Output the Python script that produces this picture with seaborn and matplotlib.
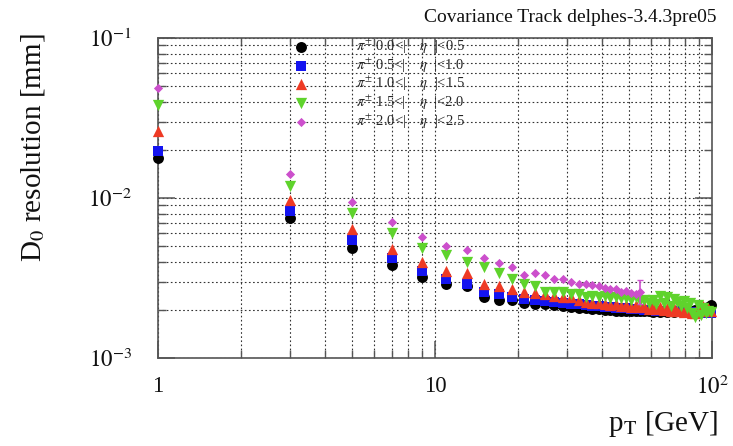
import matplotlib
matplotlib.use("Agg")
import matplotlib.pyplot as plt
from matplotlib.ticker import LogLocator, NullFormatter
import numpy as np
import pandas as pd
import seaborn as sns

# transverse momentum bins [GeV]
pt = [1, 3, 5, 7, 9, 11, 13, 15, 17, 19,
      21, 23, 25, 27, 29, 31, 33, 35, 37, 39,
      41, 43, 45, 47, 49, 51, 53, 55, 57, 59,
      61, 63, 65, 67, 69, 71, 73, 75, 77, 79,
      81, 83, 85, 87, 89, 91, 93, 95, 97, 99]

# D0 resolution [mm] per |eta| range
d0_eta_00_05 = [0.0178, 0.0075, 0.0049, 0.0038, 0.0032, 0.0029, 0.0028, 0.0024, 0.0023, 0.0023,
                0.00222, 0.00219, 0.00216, 0.00213, 0.00210, 0.00208, 0.00206, 0.00204, 0.00202, 0.00201,
                0.00200, 0.00199, 0.00198, 0.00198, 0.00197, 0.00197, 0.00196, 0.00197, 0.00196, 0.00196,
                0.00195, 0.00196, 0.00195, 0.00196, 0.00195, 0.00196, 0.00195, 0.00196, 0.00196, 0.00197,
                0.00197, 0.00198, 0.00198, 0.00199, 0.00200, 0.00201, 0.00203, 0.00205, 0.00209, 0.00214]
d0_eta_05_10 = [0.0197, 0.0083, 0.0055, 0.0042, 0.0035, 0.0031, 0.0029, 0.0026, 0.0025, 0.0024,
                0.00235, 0.00230, 0.00226, 0.00223, 0.00220, 0.00218, 0.00216, 0.00214, 0.00212, 0.00210,
                0.00209, 0.00208, 0.00206, 0.00205, 0.00204, 0.00203, 0.00202, 0.00201, 0.00200, 0.00199,
                0.00199, 0.00198, 0.00198, 0.00197, 0.00197, 0.00196, 0.00196, 0.00195, 0.00195, 0.00195,
                0.00194, 0.00194, 0.00194, 0.00193, 0.00193, 0.00193, 0.00192, 0.00192, 0.00192, 0.00192]
d0_eta_10_15 = [0.0263, 0.0097, 0.0064, 0.0048, 0.0040, 0.0035, 0.0034, 0.0029, 0.0028, 0.0027,
                0.0026, 0.00255, 0.0025, 0.00245, 0.0024, 0.0024, 0.00232, 0.00224, 0.00222, 0.00220,
                0.00218, 0.00214, 0.00216, 0.00211, 0.00215, 0.00208, 0.00213, 0.00207, 0.00212, 0.00203,
                0.00210, 0.00202, 0.00208, 0.00199, 0.00206, 0.00197, 0.00204, 0.00196, 0.00200, 0.00195,
                0.00203, 0.00196, 0.00192, 0.00190, 0.00208, 0.00198, 0.00212, 0.00200, 0.00205, 0.00198]
d0_eta_15_20 = [0.0381, 0.0119, 0.0081, 0.0060, 0.0049, 0.0044, 0.0040, 0.0037, 0.0034, 0.0031,
                0.0029, 0.0028, 0.0026, 0.0026, 0.0026, 0.0025, 0.0025, 0.0024, 0.00245, 0.0024,
                0.00243, 0.00238, 0.0024, 0.00236, 0.00238, 0.00232, 0.0024, 0.00228, 0.00232, 0.00222,
                0.0023, 0.00218, 0.00245, 0.0022, 0.0024, 0.00212, 0.00235, 0.00225, 0.0021, 0.00228,
                0.00205, 0.0022, 0.00192, 0.0018, 0.00215, 0.00185, 0.00205, 0.0019, 0.00198, 0.00195]
d0_eta_20_25 = [0.0487, 0.0141, 0.0094, 0.0071, 0.0057, 0.0050, 0.0047, 0.0042, 0.0039, 0.0037,
                0.0033, 0.0034, 0.0033, 0.0031, 0.0031, 0.0030, 0.0029, 0.0029, 0.00285, 0.0028,
                0.00275, 0.0027, 0.00268, 0.0026, 0.00262, 0.00255, 0.0025, 0.00258]
# error on the last point of the 2.0<|eta|<2.5 series
err_eta_20_25_lo = 0.0004
err_eta_20_25_hi = 0.0005

series = [
    (r"$\pi^{\pm}$ 0.0<|    $\eta$  |<0.5", d0_eta_00_05, "o", "#000000", 62),
    (r"$\pi^{\pm}$ 0.5<|    $\eta$  |<1.0", d0_eta_05_10, "s", "#1414f0", 60),
    (r"$\pi^{\pm}$ 1.0<|    $\eta$  |<1.5", d0_eta_10_15, "^", "#ee3a24", 66),
    (r"$\pi^{\pm}$ 1.5<|    $\eta$  |<2.0", d0_eta_15_20, "v", "#5fd32c", 66),
    (r"$\pi^{\pm}$ 2.0<|    $\eta$  |<2.5", d0_eta_20_25, "D", "#cc4fcc", 22),
]

frames = []
for label, vals, _, _, _ in series:
    frames.append(pd.DataFrame({"pt": pt[:len(vals)], "res": vals, "bin": label}))
df = pd.concat(frames, ignore_index=True)

sns.set_theme(style="white")
plt.rcParams["font.family"] = ["Liberation Serif", "DejaVu Serif"]
plt.rcParams["mathtext.fontset"] = "stix"

fig = plt.figure(figsize=(7.33, 4.46), dpi=100)
ax = fig.add_axes([158 / 733, 1 - 358 / 446, 554 / 733, 320 / 446])

for label, vals, marker, color, size in series:
    sns.scatterplot(data=df[df["bin"] == label], x="pt", y="res", marker=marker,
                    color=color, s=size, linewidth=0, ax=ax, clip_on=False,
                    label=label, zorder=3)

last = len(d0_eta_20_25) - 1
ax.errorbar([pt[last]], [d0_eta_20_25[last]],
            yerr=[[err_eta_20_25_lo], [err_eta_20_25_hi]],
            fmt="none", ecolor="#cc4fcc", elinewidth=1.2, capsize=2, zorder=3)

ax.set_xscale("log")
ax.set_yscale("log")
ax.set_xlim(1, 100)
ax.set_ylim(1e-3, 1e-1)

ax.set_xticks([1, 10, 100])
ax.set_xticklabels(["1", "10", r"$10^{2}$"])
ax.set_yticks([1e-3, 1e-2, 1e-1])
ax.set_yticklabels([r"$10^{-3}$", r"$10^{-2}$", r"$10^{-1}$"])
ax.xaxis.set_minor_locator(LogLocator(base=10, subs=np.arange(2, 10)))
ax.yaxis.set_minor_locator(LogLocator(base=10, subs=np.arange(2, 10)))
ax.xaxis.set_minor_formatter(NullFormatter())
ax.yaxis.set_minor_formatter(NullFormatter())

ax.tick_params(axis="both", which="both", direction="in", colors="#555555",
               labelcolor="#111111", top=True, right=True, bottom=True, left=True)
ax.tick_params(axis="both", which="major", length=12, width=1.1, labelsize=16.5)
ax.tick_params(axis="both", which="minor", length=6, width=1.0)
ax.tick_params(axis="y", which="major", pad=19)
ax.tick_params(axis="x", which="major", pad=13)

ax.grid(True, which="both", axis="both", color="#333333", linewidth=0.8,
        linestyle=(0, (1.5, 2.2)))
for sp in ax.spines.values():
    sp.set_color("#555555")
    sp.set_linewidth(1.2)

ax.set_xlabel("")
ax.set_ylabel("")
fig.text(33 / 733, 1 - 148 / 446, r"D$_{0}$ resolution [mm]", rotation=90,
         ha="center", va="center", fontsize=21, color="#111111")
fig.text(718 / 733, 1 - 424 / 446, r"p$_{\mathrm{T}}$ [GeV]", ha="right",
         va="center", fontsize=21, color="#111111")
fig.text(717 / 733, 1 - 18 / 446, "Covariance Track delphes-3.4.3pre05",
         ha="right", va="center", fontsize=14, color="#111111")

ax.legend(loc="upper left", bbox_to_anchor=(0.243, 1.006), frameon=False,
          fontsize=10.5, handlelength=1.0, handletextpad=3.27, labelspacing=0.03,
          borderpad=0.1, borderaxespad=0)

fig.savefig("out.png", dpi=100)
